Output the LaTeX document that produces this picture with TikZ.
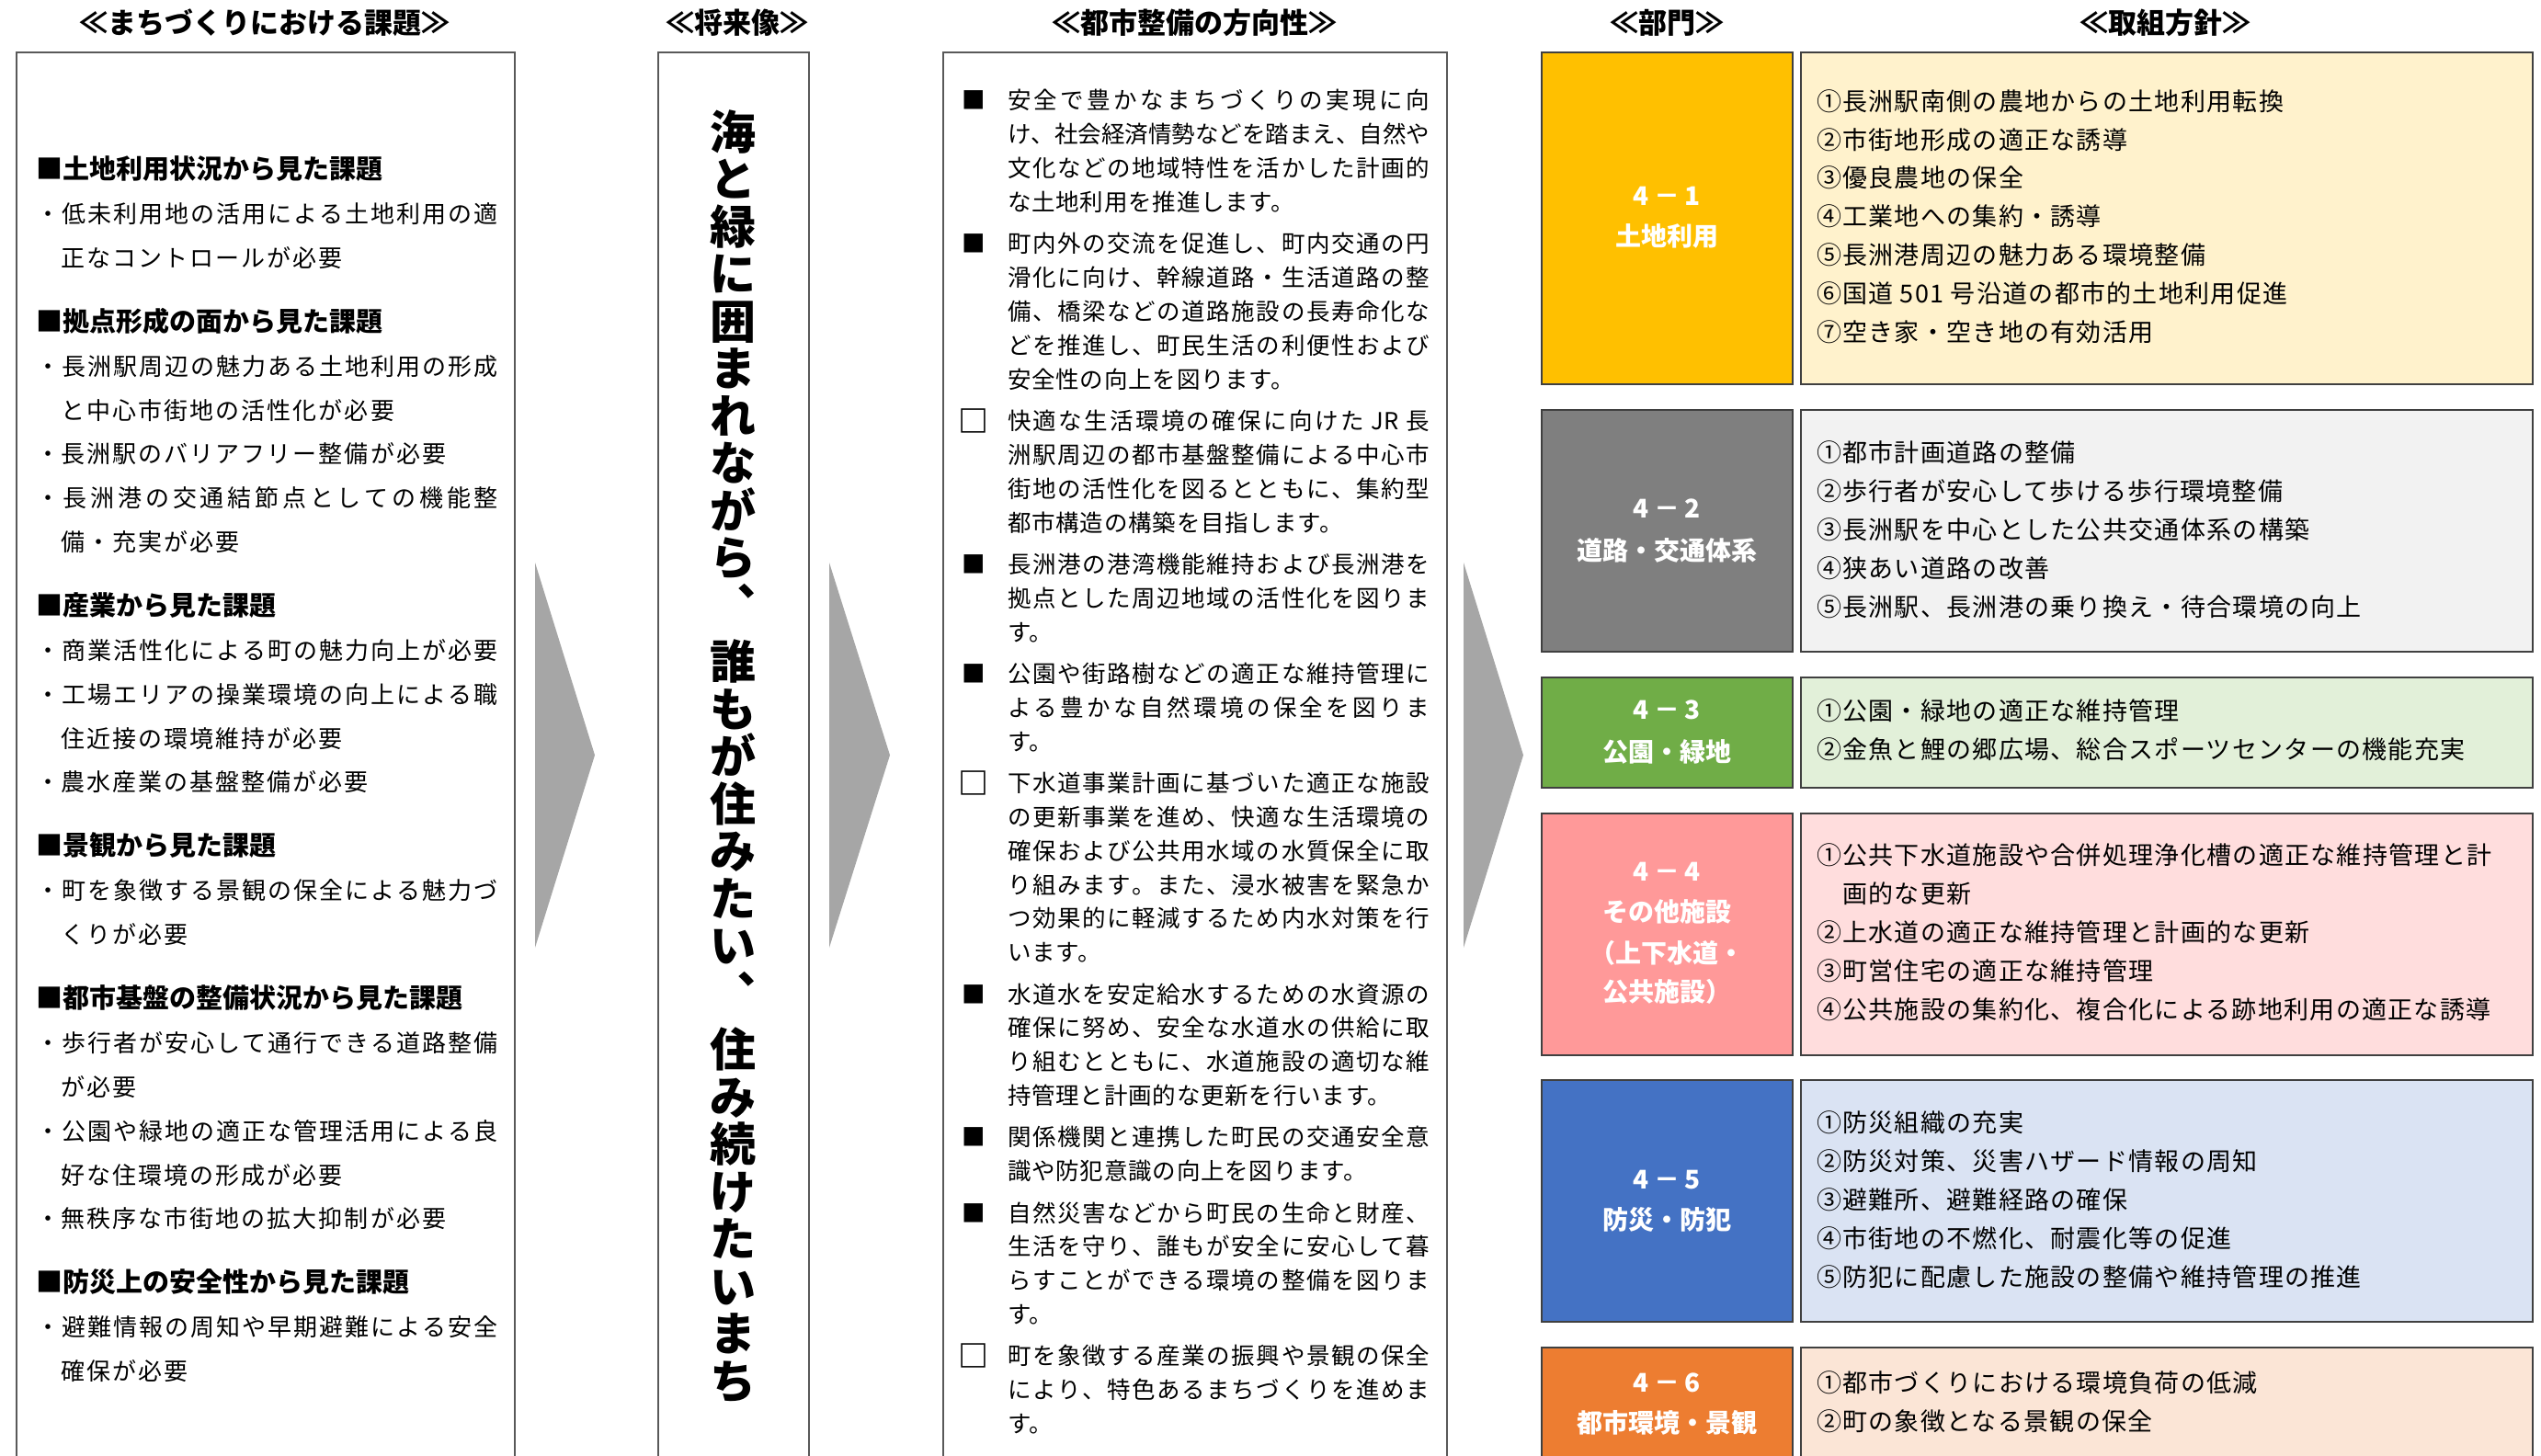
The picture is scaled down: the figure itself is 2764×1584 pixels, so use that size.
\documentclass[tikz,border=0pt]{standalone}
\usepackage{fontspec}
\setmainfont{Noto Sans CJK JP}
\newfontfamily\jp{Noto Sans CJK JP}
\newfontfamily\jpL[LetterSpace=7.7]{Noto Sans CJK JP}
\newfontfamily\jpD[LetterSpace=3.1]{Noto Sans CJK JP}
\newfontfamily\jpR[LetterSpace=4.8]{Noto Sans CJK JP}
\definecolor{cA}{HTML}{FFC000}\definecolor{pA}{HTML}{FFF2CC}
\definecolor{cB}{HTML}{7F7F7F}\definecolor{pB}{HTML}{F2F2F2}
\definecolor{cC}{HTML}{70AD47}\definecolor{pC}{HTML}{E2F0D9}
\definecolor{cD}{HTML}{FF9999}\definecolor{pD}{HTML}{FFDDDD}
\definecolor{cE}{HTML}{4472C4}\definecolor{pE}{HTML}{DAE3F3}
\definecolor{cF}{HTML}{ED7D31}\definecolor{pF}{HTML}{FBE5D6}
\definecolor{arrowgray}{HTML}{A6A6A6}
\definecolor{framegray}{HTML}{595959}
\definecolor{boxline}{HTML}{404040}
\newskip\jskip \jskip=0pt plus 1fil minus 4pt
\def\jspread#1{#1\futurelet\jnext\jcheck}
\def\jcheck{\ifx\jnext\relax\expandafter\jstop\else\expandafter\jcont\fi}
\def\jcont{\hskip\jskip\jspread}
\def\jstop\relax{}
\newcommand\lftJ[1]{{\jp\hbox to 503pt{\jspread#1\relax}}}
\newcommand\lftN[1]{{\jpL #1}}
\newcommand\drJ[1]{{\jp\hbox to 459pt{\jspread#1\relax}}}
\newcommand\drN[1]{{\jpD #1}}
\begin{document}
\begin{tikzpicture}[x=1pt,y=-1pt,
  frame/.style={draw=framegray,line width=1.6pt},
  dbox/.style={draw=boxline,line width=2pt},
  ttl/.style={anchor=base,inner sep=0pt,outer sep=0pt,font=\jp\bfseries\fontsize{31}{34}\selectfont},
  lhd/.style={anchor=base west,inner sep=0pt,outer sep=0pt,font=\jp\bfseries\fontsize{29}{32}\selectfont},
  lft/.style={anchor=base west,inner sep=0pt,outer sep=0pt,font=\fontsize{26}{30}\selectfont},
  drl/.style={anchor=base west,inner sep=0pt,outer sep=0pt,font=\fontsize{25.5}{30}\selectfont},
  hollow/.style={anchor=base west,inner sep=0pt,outer sep=0pt,font=\jp\bfseries\fontsize{33}{36}\selectfont},
  dlab/.style={anchor=base,inner sep=0pt,outer sep=0pt,text=white,font=\jp\bfseries\fontsize{28}{32}\selectfont},
  pol/.style={anchor=base west,inner sep=0pt,outer sep=0pt,font=\jpR\fontsize{27}{30}\selectfont}]
\useasboundingbox (0,0) rectangle (2764,1584);
\fill[white] (0,0) rectangle (2764,1584);
\clip (0,0) rectangle (2764,1584);

% column frames
\draw[frame] (18,57) rectangle (560,1620);
\draw[frame] (716,57) rectangle (880,1620);
\draw[frame] (1026,57) rectangle (1574,1620);

% arrows
\fill[arrowgray] (582,612) -- (647,821.5) -- (582,1031) -- cycle;
\fill[arrowgray] (902,612) -- (968,821.5) -- (902,1031) -- cycle;
\fill[arrowgray] (1592,612) -- (1657,821.5) -- (1592,1031) -- cycle;

% department and policy boxes
\draw[dbox,fill=cA] (1677,57) rectangle (1950,418);
\draw[dbox,fill=pA] (1959,57) rectangle (2755,418);
\draw[dbox,fill=cB] (1677,446) rectangle (1950,709);
\draw[dbox,fill=pB] (1959,446) rectangle (2755,709);
\draw[dbox,fill=cC] (1677,737) rectangle (1950,857);
\draw[dbox,fill=pC] (1959,737) rectangle (2755,857);
\draw[dbox,fill=cD] (1677,885) rectangle (1950,1148);
\draw[dbox,fill=pD] (1959,885) rectangle (2755,1148);
\draw[dbox,fill=cE] (1677,1175) rectangle (1950,1438);
\draw[dbox,fill=pE] (1959,1175) rectangle (2755,1438);
\draw[dbox,fill=cF] (1677,1466) rectangle (1950,1620);
\draw[dbox,fill=pF] (1959,1466) rectangle (2755,1620);

% titles
\node[ttl] (t1) at (288,36.8) {≪まちづくりにおける課題≫};
\node[ttl] (t2) at (802,36.8) {≪将来像≫};
\node[ttl] (t3) at (1299,36.8) {≪都市整備の方向性≫};
\node[ttl] (t4) at (1813,36.8) {≪部門≫};
\node[ttl] (t5) at (2355,36.8) {≪取組方針≫};

% left column headings
\node[lhd] (h1) at (39,194.5) {■土地利用状況から見た課題};
\node[lhd] (h2) at (39,360.3) {■拠点形成の面から見た課題};
\node[lhd] (h3) at (39,669.5) {■産業から見た課題};
\node[lhd] (h4) at (39,930.9) {■景観から見た課題};
\node[lhd] (h5) at (39,1096.7) {■都市基盤の整備状況から見た課題};
\node[lhd] (h6) at (39,1405.9) {■防災上の安全性から見た課題};

% left column items
\foreach \y/\t [count=\i] in {
 242.5/\lftJ{・低未利用地の活用による土地利用の適},
 290.3/\lftN{　正なコントロールが必要},
 408.3/\lftJ{・長洲駅周辺の魅力ある土地利用の形成},
 456.1/\lftN{　と中心市街地の活性化が必要},
 503.9/\lftN{・長洲駅のバリアフリー整備が必要},
 551.7/\lftJ{・長洲港の交通結節点としての機能整},
 599.5/\lftN{　備・充実が必要},
 717.5/\lftJ{・商業活性化による町の魅力向上が必要},
 765.3/\lftJ{・工場エリアの操業環境の向上による職},
 813.1/\lftN{　住近接の環境維持が必要},
 860.9/\lftN{・農水産業の基盤整備が必要},
 978.9/\lftJ{・町を象徴する景観の保全による魅力づ},
 1026.7/\lftN{　くりが必要},
 1144.7/\lftJ{・歩行者が安心して通行できる道路整備},
 1192.5/\lftN{　が必要},
 1240.3/\lftJ{・公園や緑地の適正な管理活用による良},
 1288.1/\lftN{　好な住環境の形成が必要},
 1335.9/\lftN{・無秩序な市街地の拡大抑制が必要},
 1453.9/\lftJ{・避難情報の周知や早期避難による安全},
 1501.7/\lftN{　確保が必要}}
 \node[lft] (l\i) at (39,\y) {\t};

% vision (vertical text)
\node[align=center,inner sep=0pt,font=\jp\bfseries\fontsize{50}{51.5}\selectfont] (vision) at (797,822.5)
 {海\\と\\緑\\に\\囲\\ま\\れ\\な\\が\\ら\\︑\\[10pt]誰\\も\\が\\住\\み\\た\\い\\︑\\[10pt]住\\み\\続\\け\\た\\い\\ま\\ち};

% direction bullets
\foreach \y [count=\i] in {118.7,274.6,623.3,742.3,1091.0,1246.9,1329.0}
 \node[drl] (b\i) at (1046,\y) {\jp ■};
\foreach \y [count=\i] in {470.2,864.1,1487.7}
 \node[hollow] (w\i) at (1042.3,\y) {□};

% direction text
\foreach \y/\t [count=\i] in {
 118.7/\drJ{安全で豊かなまちづくりの実現に向},
 155.6/\drJ{け、社会経済情勢などを踏まえ、自然や},
 192.5/\drJ{文化などの地域特性を活かした計画的},
 229.4/\drN{な土地利用を推進します。},
 274.6/\drJ{町内外の交流を促進し、町内交通の円},
 311.5/\drJ{滑化に向け、幹線道路・生活道路の整},
 348.4/\drJ{備、橋梁などの道路施設の長寿命化な},
 385.3/\drJ{どを推進し、町民生活の利便性および},
 422.2/\drN{安全性の向上を図ります。},
 467.4/\drJ{快適な生活環境の確保に向けた{\ JR\ }長},
 504.3/\drJ{洲駅周辺の都市基盤整備による中心市},
 541.2/\drJ{街地の活性化を図るとともに、集約型},
 578.1/\drN{都市構造の構築を目指します。},
 623.3/\drJ{長洲港の港湾機能維持および長洲港を},
 660.2/\drJ{拠点とした周辺地域の活性化を図りま},
 697.1/\drN{す。},
 742.3/\drJ{公園や街路樹などの適正な維持管理に},
 779.2/\drJ{よる豊かな自然環境の保全を図りま},
 816.1/\drN{す。},
 861.3/\drJ{下水道事業計画に基づいた適正な施設},
 898.2/\drJ{の更新事業を進め、快適な生活環境の},
 935.1/\drJ{確保および公共用水域の水質保全に取},
 972.0/\drJ{り組みます。また、浸水被害を緊急か},
 1008.9/\drJ{つ効果的に軽減するため内水対策を行},
 1045.8/\drN{います。},
 1091.0/\drJ{水道水を安定給水するための水資源の},
 1127.9/\drJ{確保に努め、安全な水道水の供給に取},
 1164.8/\drJ{り組むとともに、水道施設の適切な維},
 1201.7/\drN{持管理と計画的な更新を行います。},
 1246.9/\drJ{関係機関と連携した町民の交通安全意},
 1283.8/\drN{識や防犯意識の向上を図ります。},
 1329.0/\drJ{自然災害などから町民の生命と財産、},
 1365.9/\drJ{生活を守り、誰もが安全に安心して暮},
 1402.8/\drJ{らすことができる環境の整備を図りま},
 1439.7/\drN{す。},
 1484.9/\drJ{町を象徴する産業の振興や景観の保全},
 1521.8/\drJ{により、特色あるまちづくりを進めま},
 1558.7/\drN{す。}}
 \node[drl] (d\i) at (1096,\y) {\t};

% department labels
\foreach \y/\t [count=\i] in {
 223.6/4\hspace{5pt}－\hspace{5pt}1, 267.6/土地利用,
 563.6/4\hspace{5pt}－\hspace{5pt}2, 609.6/道路・交通体系,
 782.6/4\hspace{5pt}－\hspace{5pt}3, 828.6/公園・緑地,
 958.6/4\hspace{5pt}－\hspace{5pt}4, 1002.6/その他施設, 1047.6/（上下水道・, 1089.6/公共施設）,
 1293.6/4\hspace{5pt}－\hspace{5pt}5, 1337.6/防災・防犯,
 1514.6/4\hspace{5pt}－\hspace{5pt}6, 1558.6/都市環境・景観}
 \node[dlab] (g\i) at (1813,\y) {\t};

% policies
\foreach \y/\t [count=\i] in {
 120.3/①長洲駅南側の農地からの土地利用転換,
 162.1/②市街地形成の適正な誘導,
 203.9/③優良農地の保全,
 245.7/④工業地への集約・誘導,
 287.5/⑤長洲港周辺の魅力ある環境整備,
 329.3/⑥国道 501 号沿道の都市的土地利用促進,
 371.1/⑦空き家・空き地の有効活用,
 502.3/①都市計画道路の整備,
 544.3/②歩行者が安心して歩ける歩行環境整備,
 586.3/③長洲駅を中心とした公共交通体系の構築,
 628.3/④狭あい道路の改善,
 670.3/⑤長洲駅、長洲港の乗り換え・待合環境の向上,
 783.3/①公園・緑地の適正な維持管理,
 825.3/②金魚と鯉の郷広場、総合スポーツセンターの機能充実,
 940.3/①公共下水道施設や合併処理浄化槽の適正な維持管理と計,
 982.3/　画的な更新,
 1024.3/②上水道の適正な維持管理と計画的な更新,
 1066.3/③町営住宅の適正な維持管理,
 1108.3/④公共施設の集約化、複合化による跡地利用の適正な誘導,
 1231.3/①防災組織の充実,
 1273.3/②防災対策、災害ハザード情報の周知,
 1315.3/③避難所、避難経路の確保,
 1357.3/④市街地の不燃化、耐震化等の促進,
 1399.3/⑤防犯に配慮した施設の整備や維持管理の推進,
 1514.3/①都市づくりにおける環境負荷の低減,
 1556.3/②町の象徴となる景観の保全}
 \node[pol] (p\i) at (1976,\y) {\t};
\end{tikzpicture}
\end{document}
